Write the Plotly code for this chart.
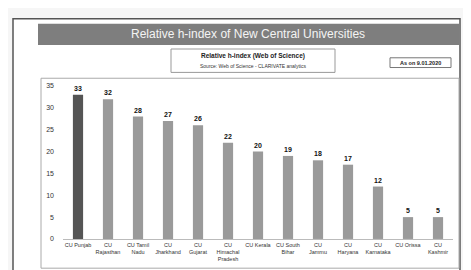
import plotly.graph_objects as go

W, H = 471, 270

universities = ["CU Punjab", "CU<br>Rajasthan", "CU Tamil<br>Nadu", "CU<br>Jharkhand", "CU<br>Gujarat",
                "CU<br>Himachal<br>Pradesh", "CU Kerala", "CU South<br>Bihar", "CU<br>Jammu", "CU<br>Haryana",
                "CU<br>Karnataka", "CU Orissa", "CU<br>Kashmir"]
h_index = [33, 32, 28, 27, 26, 22, 20, 19, 18, 17, 12, 5, 5]
y_ticks = [0, 5, 10, 15, 20, 25, 30, 35]

bar_colors = ["#555555"] + ["#9a9a9a"] * (len(h_index) - 1)

def px(x):
    return x / W

def py(y):
    return (H - y) / H

fig = go.Figure()
fig.add_trace(go.Bar(
    x=list(range(len(universities))), y=h_index,
    marker=dict(color=bar_colors, line=dict(width=0)),
    width=0.34,
    text=["<b>%d</b>" % v for v in h_index], textposition="outside",
    textfont=dict(family="Liberation Sans", size=7, color="#111111"),
    cliponaxis=False,
))

shapes = [
    dict(type="rect", xref="paper", yref="paper", x0=px(5), x1=px(452), y0=py(266), y1=py(7),
         line=dict(color="#555", width=1.5), fillcolor="white", layer="below"),
    dict(type="rect", xref="paper", yref="paper", x0=px(30), x1=px(451), y0=py(34), y1=py(12),
         line=dict(width=0), fillcolor="#7e7e7e", layer="below"),
    dict(type="rect", xref="paper", yref="paper", x0=px(163), x1=px(327), y0=py(62), y1=py(38),
         line=dict(color="#999", width=1), fillcolor="white", layer="below"),
    dict(type="rect", xref="paper", yref="paper", x0=px(382), x1=px(443), y0=py(57), y1=py(47),
         line=dict(color="#777", width=1), fillcolor="white", layer="below"),
    dict(type="rect", xref="paper", yref="paper", x0=px(33), x1=px(451), y0=py(263), y1=py(68),
         line=dict(color="#aaa", width=1), fillcolor="white", layer="below"),
]

annotations = [
    dict(text="Relative h-index of New Central Universities", xref="paper", yref="paper",
         x=px(240), y=py(23), showarrow=False, xanchor="center", yanchor="middle",
         font=dict(family="Liberation Sans", size=12, color="#f4f4f4")),
    dict(text="<b>Relative h-index (Web of Science)</b>", xref="paper", yref="paper",
         x=px(245), y=py(45), showarrow=False, xanchor="center", yanchor="middle",
         font=dict(family="Liberation Sans", size=6.5, color="#222")),
    dict(text="Source: Web of Science - CLARIVATE analytics", xref="paper", yref="paper",
         x=px(245), y=py(55), showarrow=False, xanchor="center", yanchor="middle",
         font=dict(family="Liberation Sans", size=5, color="#333")),
    dict(text="<b>As on 9.01.2020</b>", xref="paper", yref="paper",
         x=px(412), y=py(52), showarrow=False, xanchor="center", yanchor="middle",
         font=dict(family="Liberation Sans", size=5.5, color="#222")),
]

fig.update_layout(
    width=W, height=H, margin=dict(l=0, r=0, t=0, b=0),
    paper_bgcolor="#f6f6f6", plot_bgcolor="rgba(0,0,0,0)",
    showlegend=False, shapes=shapes, annotations=annotations,
    xaxis=dict(domain=[px(55), px(445)], range=[-0.5, len(h_index) - 0.5],
               tickmode="array", tickvals=list(range(len(universities))), ticktext=universities,
               tickangle=0, tickfont=dict(family="Liberation Sans", size=5.5, color="#333"),
               showline=True, linecolor="#bbb", linewidth=1, showgrid=False, ticks=""),
    yaxis=dict(domain=[py(233), py(76)], range=[0, 35], tickvals=y_ticks,
               tickfont=dict(family="Liberation Sans", size=7, color="#333"),
               showgrid=False, zeroline=False, showline=False, ticks="",
               ticklabelstandoff=8),
    bargap=0.66,
)

fig.write_html("out.html")
